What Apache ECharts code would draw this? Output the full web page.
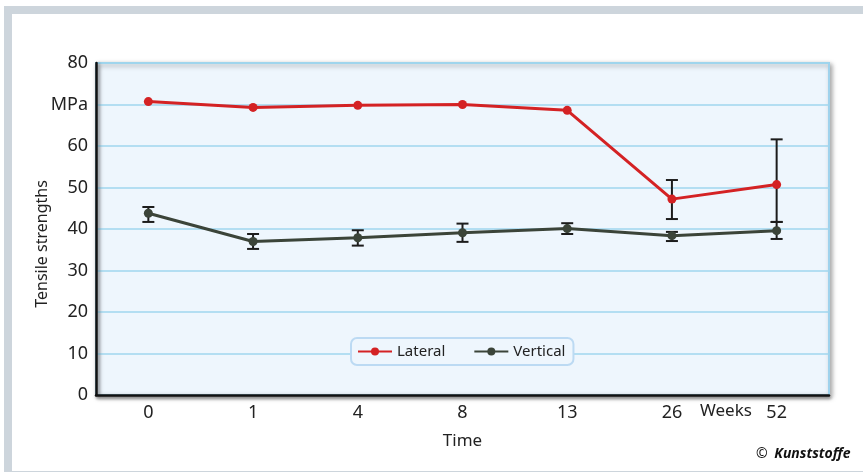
<!DOCTYPE html>
<html>
<head>
<meta charset="utf-8">
<script src="https://cdn.jsdelivr.net/npm/echarts@6/dist/echarts.min.js"></script>
<style>
html,body{margin:0;padding:0;background:#fff;}
#frame{position:absolute;left:4px;top:6px;width:859px;height:466px;background:#cdd5dc;}
#inner{position:absolute;left:12px;top:14px;width:851px;height:457px;background:#fff;}
#chart{position:absolute;left:0;top:0;width:863px;height:475px;}
</style>
</head>
<body>
<div id="frame"></div>
<div id="inner"></div>
<div id="chart"></div>
<script>
var categories = ['0', '1', '4', '8', '13', '26', '52'];
var yTickLabels = ['0', '10', '20', '30', '40', '50', '60', 'MPa', '80'];
var lateral = [70.7, 69.3, 69.8, 70.0, 68.6, 47.2, 50.7];
var lateralErrLow = [null, null, null, null, null, 42.4, 41.7];
var lateralErrHigh = [null, null, null, null, null, 51.8, 61.6];
var vertical = [43.8, 37.0, 37.9, 39.1, 40.1, 38.4, 39.6];
var verticalErrLow = [41.7, 35.2, 36.0, 36.9, 38.8, 37.1, 37.6];
var verticalErrHigh = [45.3, 38.8, 39.7, 41.3, 41.4, 39.3, 41.7];

var FONT = '"Noto Sans", sans-serif';
var RED = '#d42224';
var DARK = '#3b4439';

function errData(lo, hi) {
  var out = [];
  for (var i = 0; i < categories.length; i++) {
    if (lo[i] != null && hi[i] != null) out.push([i, lo[i], hi[i]]);
  }
  return out;
}
function errRender(params, api) {
  var x = api.value(0);
  var p1 = api.coord([x, api.value(1)]);
  var p2 = api.coord([x, api.value(2)]);
  var hw = 6;
  var st = { stroke: '#1c1c1c', lineWidth: 2 };
  return {
    type: 'group',
    children: [
      { type: 'line', shape: { x1: p1[0], y1: p1[1], x2: p2[0], y2: p2[1] }, style: st },
      { type: 'line', shape: { x1: p1[0] - hw, y1: p1[1], x2: p1[0] + hw, y2: p1[1] }, style: st },
      { type: 'line', shape: { x1: p2[0] - hw, y1: p2[1], x2: p2[0] + hw, y2: p2[1] }, style: st }
    ]
  };
}

var chart = echarts.init(document.getElementById('chart'), null, { renderer: 'canvas' });
chart.setOption({
  animation: false,
  backgroundColor: 'transparent',
  textStyle: { fontFamily: FONT },
  grid: {
    left: 96, right: 34, top: 63, bottom: 80,
    show: true,
    backgroundColor: '#eef6fd',
    borderColor: '#9fd2ec',
    borderWidth: 2,
    shadowColor: 'rgba(0,0,0,0.35)',
    shadowBlur: 5,
    shadowOffsetX: 2,
    shadowOffsetY: 2
  },
  legend: {
    left: 351, top: 338,
    padding: [6, 8, 6, 6],
    backgroundColor: '#eef6fd',
    borderColor: '#bcdaf3',
    borderWidth: 2,
    borderRadius: 6,
    itemWidth: 34, itemHeight: 10,
    itemGap: 28,
    textStyle: { fontFamily: FONT, fontSize: 15, color: '#222' },
    data: ['Lateral', 'Vertical']
  },
  xAxis: {
    type: 'category',
    data: categories,
    boundaryGap: true,
    name: 'Time',
    nameLocation: 'middle',
    nameGap: 38,
    nameTextStyle: { fontFamily: FONT, fontSize: 17, color: '#222' },
    axisLine: { lineStyle: { color: '#111', width: 2.5, shadowColor: 'rgba(0,0,0,0.35)', shadowBlur: 3, shadowOffsetX: 1, shadowOffsetY: 2 } },
    axisTick: { inside: true, length: 7, lineStyle: { color: '#8ecbe8', width: 1.5 } },
    axisLabel: { fontFamily: FONT, fontSize: 18, color: '#222', margin: 9 }
  },
  yAxis: {
    type: 'value',
    min: 0, max: 80, interval: 10,
    axisLine: { show: true, lineStyle: { color: '#111', width: 2.5, shadowColor: 'rgba(0,0,0,0.35)', shadowBlur: 3, shadowOffsetX: 2, shadowOffsetY: 1 } },
    axisTick: { show: false },
    axisLabel: {
      fontFamily: FONT, fontSize: 18, color: '#222', margin: 8,
      formatter: function (v) { return yTickLabels[Math.round(v / 10)]; }
    },
    splitLine: { lineStyle: { color: '#9fd6ee', width: 1.5 } }
  },
  series: [
    {
      name: 'Lateral', type: 'line', data: lateral,
      symbol: 'circle', symbolSize: 9,
      lineStyle: { color: RED, width: 3 },
      itemStyle: { color: RED },
      z: 3
    },
    {
      name: 'Vertical', type: 'line', data: vertical,
      symbol: 'circle', symbolSize: 9,
      lineStyle: { color: DARK, width: 3 },
      itemStyle: { color: DARK },
      z: 3
    },
    {
      type: 'custom', name: 'latErr', renderItem: errRender,
      data: errData(lateralErrLow, lateralErrHigh), z: 2, silent: true
    },
    {
      type: 'custom', name: 'vertErr', renderItem: errRender,
      data: errData(verticalErrLow, verticalErrHigh), z: 2, silent: true
    }
  ],
  graphic: [
    {
      type: 'text', x: 42, y: 244, rotation: Math.PI / 2,
      style: { text: 'Tensile strengths', font: '16px "Noto Sans", sans-serif', fill: '#222', align: 'center', verticalAlign: 'middle' }
    },
    {
      type: 'text', left: 700, top: 403,
      style: { text: 'Weeks', font: '17px "Noto Sans", sans-serif', fill: '#222' }
    },
    {
      type: 'text', left: 756, top: 447,
      style: {
        text: '{c|©}  {k|Kunststoffe}',
        rich: {
          c: { font: '14px "Noto Sans", sans-serif', fill: '#111' },
          k: { font: 'italic bold 14px "Noto Sans", sans-serif', fill: '#111' }
        }
      }
    }
  ]
});
</script>
</body>
</html>
